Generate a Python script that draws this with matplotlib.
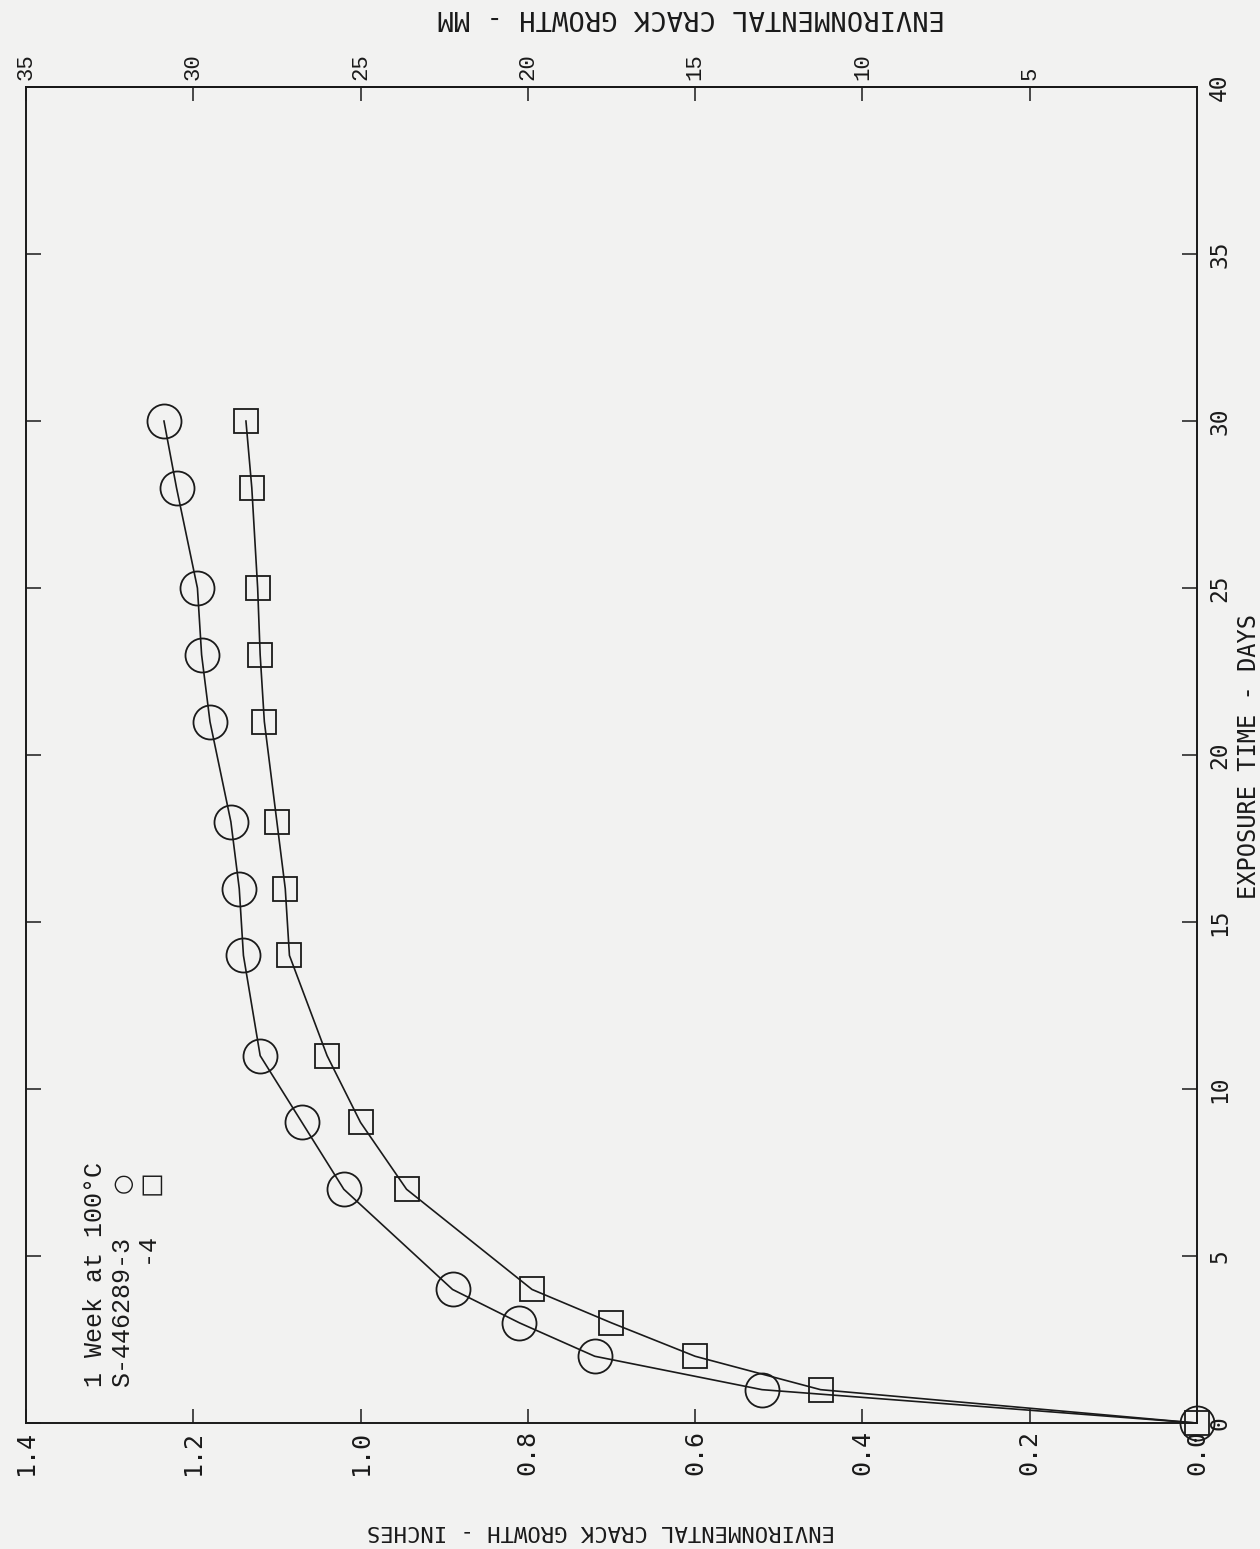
import matplotlib
matplotlib.use("Agg")
import matplotlib.pyplot as plt

# exposure time (days) and crack growth (inches)
days = [0, 1, 2, 3, 4, 7, 9, 11, 14, 16, 18, 21, 23, 25, 28, 30]
crack_3 = [0.0, 0.52, 0.72, 0.81, 0.89, 1.02, 1.07, 1.12, 1.14, 1.145,
           1.155, 1.18, 1.19, 1.195, 1.22, 1.235]
crack_4 = [0.0, 0.45, 0.60, 0.70, 0.795, 0.945, 1.0, 1.04, 1.085, 1.09,
           1.10, 1.115, 1.12, 1.123, 1.13, 1.137]

inch_ticks = [0.0, 0.2, 0.4, 0.6, 0.8, 1.0, 1.2, 1.4]
day_ticks = [0, 5, 10, 15, 20, 25, 30, 35, 40]
mm_ticks = [5, 10, 15, 20, 25, 30, 35]

legend_lines = ["1 Week at 100°C", "S-446289-3", "        -4"]
legend_symbols = ["", "○", "□"]
symbol_sizes = [0, 17, 19]

INK = "#1a1a1a"
PLOT_FONT = ["DejaVu Sans Mono", "DejaVu Sans"]
TYPE_FONT = ["Liberation Mono", "DejaVu Sans Mono", "DejaVu Sans"]

fig = plt.figure(figsize=(12.6, 15.49), dpi=100, facecolor="#f2f2f1")
ax = fig.add_axes([0.0206, 0.0813, 0.9294, 0.8625])
ax.set_facecolor("#f2f2f1")

# curves through the points
ax.plot(crack_3, days, "-", color=INK, lw=1.2)
ax.plot(crack_4, days, "-", color=INK, lw=1.2)
ax.plot(crack_3, days, "o", ms=24.5, mfc="none", mec=INK, mew=1.3, clip_on=False)
ax.plot(crack_4, days, "s", ms=17, mfc="none", mec=INK, mew=1.3, clip_on=False)

ax.set_xlim(1.4, 0)
ax.set_ylim(0, 40)

for s in ax.spines.values():
    s.set_linewidth(1.4)
    s.set_color(INK)

ax.set_xticks(inch_ticks)
ax.set_xticklabels([f"{v:.1f}" for v in inch_ticks], rotation=90,
                   family=PLOT_FONT, fontsize=18, color=INK)
ax.tick_params(axis="x", direction="in", length=10, width=1.1, pad=5,
               top=False, colors=INK)

ax.set_yticks(day_ticks)
ax.set_yticklabels([str(v) for v in day_ticks], rotation=90, va="center",
                   family=PLOT_FONT, fontsize=16.5, color=INK)
ax.tick_params(axis="y", direction="in", left=True, right=True,
               labelleft=False, labelright=True, length=11, width=1.1,
               pad=8, colors=INK)

# millimetre scale along the top
sec = ax.secondary_xaxis("top", functions=(lambda x: x * 25, lambda m: m / 25))
sec.set_xticks(mm_ticks)
sec.set_xticklabels([str(v) for v in mm_ticks], rotation=90,
                    family=TYPE_FONT, fontsize=16, color=INK)
sec.tick_params(direction="in", length=10, width=1.1, pad=5, colors=INK)
sec.spines["top"].set_linewidth(1.4)

fig.text(691 / 1260, 1 - 17 / 1549, "ENVIRONMENTAL CRACK GROWTH - MM",
         rotation=180, ha="center", va="center", family=PLOT_FONT,
         fontsize=19.5, color=INK)
fig.text(601 / 1260, 1 - 1531 / 1549, "ENVIRONMENTAL CRACK GROWTH - INCHES",
         rotation=180, ha="center", va="center", family=PLOT_FONT,
         fontsize=16, color=INK)
fig.text(1249 / 1260, 1 - 757 / 1549, "EXPOSURE TIME - DAYS",
         rotation=90, ha="center", va="center", family=PLOT_FONT,
         fontsize=17, color=INK)

# legend block, typed sideways
for i, (line, sym) in enumerate(zip(legend_lines, legend_symbols)):
    x = 0.0589 + i * 0.0235
    ax.text(x, 0.027, line, transform=ax.transAxes,
            rotation=90, rotation_mode="anchor", ha="left", va="center",
            family=TYPE_FONT, fontsize=18, color=INK)
    if sym:
        ax.text(x, 0.180, sym, transform=ax.transAxes,
                rotation=90, rotation_mode="anchor", ha="center", va="center",
                family=["DejaVu Sans"], fontsize=symbol_sizes[i], color=INK)

fig.savefig("out.png", dpi=100, facecolor=fig.get_facecolor())
